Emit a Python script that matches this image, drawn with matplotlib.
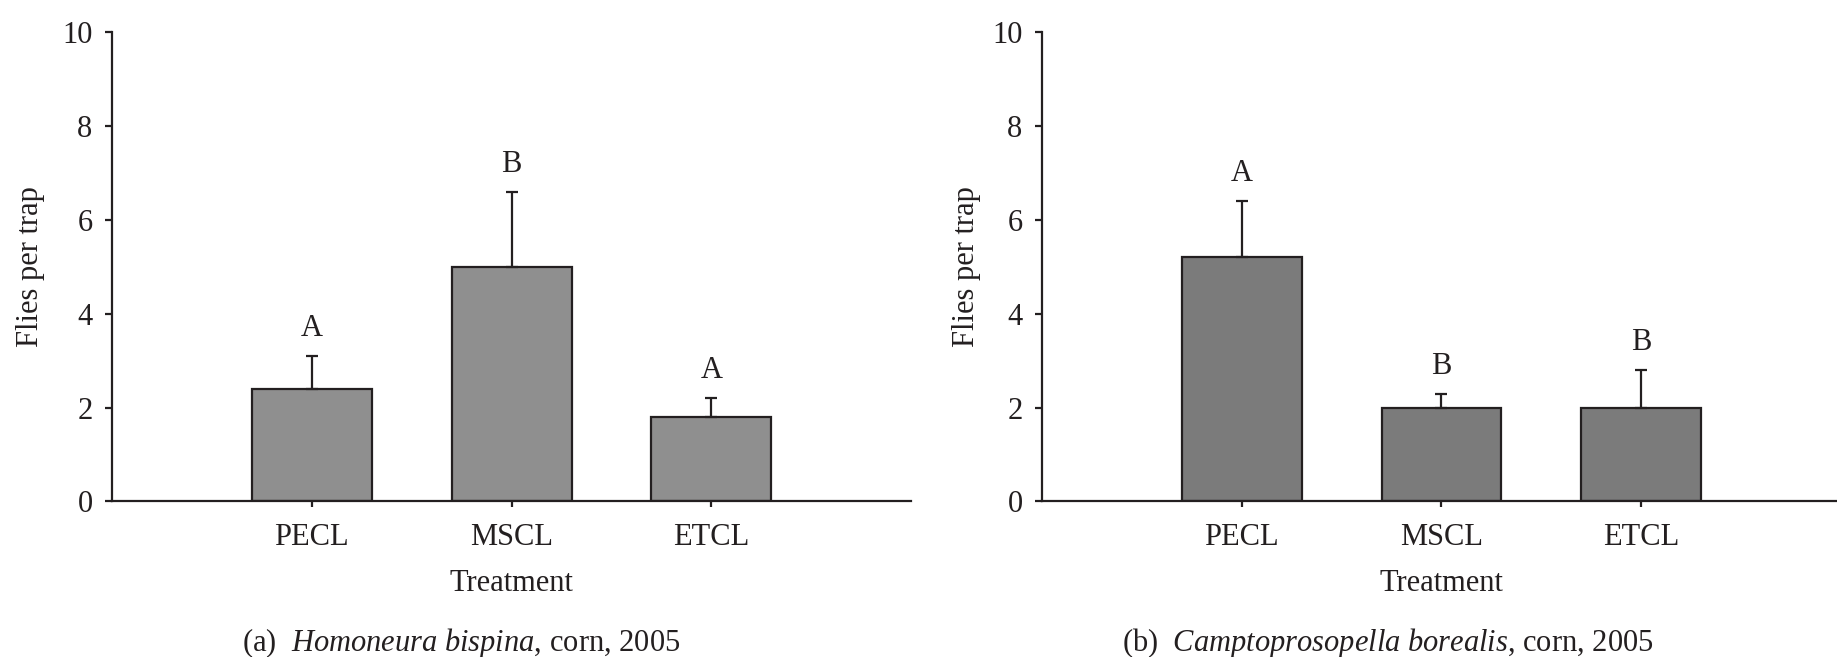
import matplotlib
matplotlib.use("Agg")
import matplotlib.pyplot as plt

# data
categories = ["PECL", "MSCL", "ETCL"]
homo_mean = [2.4, 5.0, 1.8]
homo_err = [0.7, 1.6, 0.4]
homo_letters = ["A", "B", "A"]
campto_mean = [5.2, 2.0, 2.0]
campto_err = [1.2, 0.3, 0.8]
campto_letters = ["A", "B", "B"]
yticks = [0, 2, 4, 6, 8, 10]

plt.rcParams['font.family'] = ['Liberation Serif', 'DejaVu Serif']
plt.rcParams['mathtext.fontset'] = 'custom'
plt.rcParams['mathtext.rm'] = 'Liberation Serif'
plt.rcParams['mathtext.it'] = 'Liberation Serif:italic'

ink = '#231f20'
fs = 22

fig = plt.figure(figsize=(18.37, 6.57), dpi=100)
ax1 = fig.add_axes([0.0610, 0.2367, 0.4350, 0.7146])
ax2 = fig.add_axes([0.5672, 0.2367, 0.4350, 0.7146])


def draw_panel(ax, means, errs, letters, color, ylab_x):
    x = [1, 2, 3]
    ax.bar(x, means, width=0.6, color=color, edgecolor=ink, linewidth=1.6, zorder=2)
    ax.errorbar(x, means, yerr=[[0, 0, 0], errs], fmt='none', ecolor=ink,
                elinewidth=1.6, capsize=4.3, capthick=1.6, zorder=3)
    for xi, m, e, lab in zip(x, means, errs, letters):
        ax.text(xi, m + e + 0.42, lab, ha='center', va='baseline',
                fontsize=fs, color=ink)
    ax.set_xlim(0, 4)
    ax.set_ylim(0, 10)
    ax.set_yticks(yticks)
    ax.set_xticks(x)
    ax.set_xticklabels(categories)
    for s in ['top', 'right']:
        ax.spines[s].set_visible(False)
    for s in ['left', 'bottom']:
        ax.spines[s].set_linewidth(1.6)
        ax.spines[s].set_color(ink)
    ax.tick_params(axis='y', length=5, width=1.6, color=ink, labelcolor=ink,
                   labelsize=fs, pad=9)
    ax.tick_params(axis='x', length=4.5, width=1.6, color=ink, labelcolor=ink,
                   labelsize=fs, pad=11)
    ax.set_ylabel("Flies per trap", fontsize=fs, color=ink)
    ax.yaxis.set_label_coords(ylab_x, 0.5)
    ax.set_xlabel("Treatment", fontsize=fs, color=ink, labelpad=12)


draw_panel(ax1, homo_mean, homo_err, homo_letters, '#8f8f8f', -0.084)
draw_panel(ax2, campto_mean, campto_err, campto_letters, '#7b7b7b', -0.076)

fig.text(461 / 1837, 1 - 651 / 657, r"(a)  $\mathit{Homoneura\ bispina}$, corn, 2005",
         ha='center', va='baseline', fontsize=fs, color=ink)
fig.text(1388 / 1837, 1 - 651 / 657, r"(b)  $\mathit{Camptoprosopella\ borealis}$, corn, 2005",
         ha='center', va='baseline', fontsize=fs, color=ink)

fig.savefig("out.png", dpi=100)
